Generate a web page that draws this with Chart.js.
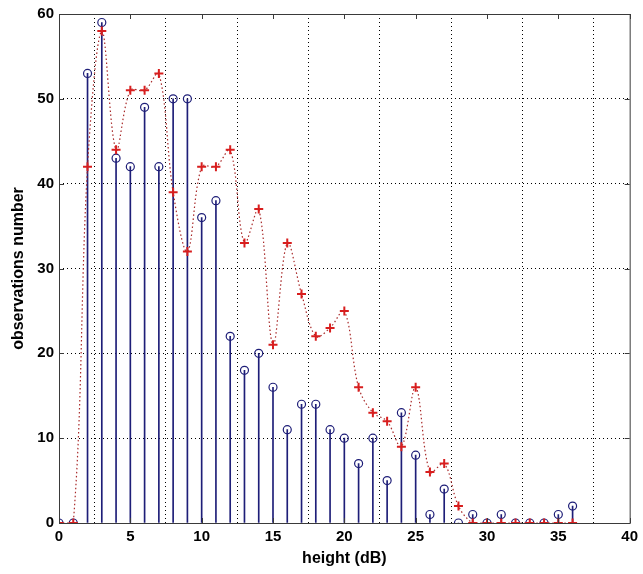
<!DOCTYPE html>
<html lang="en">
    <head>
        <meta charset="UTF-8">
        <title>Observations vs height</title>
        <script src="https://cdn.jsdelivr.net/npm/chart.js"></script>
        <style>
            html, body { margin: 0; padding: 0; background: #fff; }
            #wrap { width: 643px; height: 574px; }
        </style>
    </head>
    <body>
        <div id="wrap"><canvas id="heights"></canvas></div>
    </body>
    <script>
        // height bins (dB)
        const heights = [0, 1, 2, 3, 4, 5, 6, 7, 8, 9, 10, 11, 12, 13, 14, 15, 16, 17, 18,
            19, 20, 21, 22, 23, 24, 25, 26, 27, 28, 29, 30, 31, 32, 33, 34, 35, 36];
        // measured counts (stems)
        const observed = [0, 0, 53, 59, 43, 42, 49, 42, 50, 50, 36, 38, 22, 18, 20, 16, 11, 14, 14,
            11, 10, 7, 10, 5, 13, 8, 1, 4, 0, 1, 0, 1, 0, 0, 0, 1, 2];
        // model counts (red crosses)
        const model = [0, 0, 42, 58, 44, 51, 51, 53, 39, 32, 42, 42, 44, 33, 37, 21, 33, 27, 22,
            23, 25, 16, 13, 12, 9, 16, 6, 7, 2, 0, 0, 0, 0, 0, 0, 0, 0];
        const xTicks = [0, 5, 10, 15, 20, 25, 30, 35, 40];
        const yTicks = [0, 10, 20, 30, 40, 50, 60];

        const pts = (vals) => heights.map((h, i) => ({x: h, y: vals[i]}));

        const stemColor = '#1e1e78';
        const axisFont = {family: 'Liberation Sans, Arial, sans-serif', size: 15, weight: 'bold'};
        const titleFont = {family: 'Liberation Sans, Arial, sans-serif', size: 16, weight: 'bold'};

        // box round the plot plus small inward tick marks on every side
        const frame = {
            id: 'frame',
            afterDraw(chart) {
                const {ctx, chartArea: a, scales} = chart;
                ctx.save();
                ctx.strokeStyle = '#3a3a3a';
                ctx.lineWidth = 1;
                ctx.strokeRect(a.left + 0.5, a.top + 0.5, a.right - a.left, a.bottom - a.top);
                ctx.beginPath();
                xTicks.forEach(v => {
                    const px = Math.round(scales.x.getPixelForValue(v)) + 0.5;
                    ctx.moveTo(px, a.bottom); ctx.lineTo(px, a.bottom - 5);
                    ctx.moveTo(px, a.top); ctx.lineTo(px, a.top + 5);
                });
                yTicks.forEach(v => {
                    const py = Math.round(scales.y.getPixelForValue(v)) + 0.5;
                    ctx.moveTo(a.left, py); ctx.lineTo(a.left + 5, py);
                    ctx.moveTo(a.right, py); ctx.lineTo(a.right - 5, py);
                });
                ctx.stroke();
                ctx.restore();
            }
        };

        new Chart(document.getElementById('heights'), {
            type: 'scatter',
            data: {
                datasets: [
                    {
                        type: 'line',
                        data: pts(model),
                        borderColor: '#a82828',
                        borderWidth: 1.2,
                        borderDash: [1.5, 2.5],
                        tension: 0.35,
                        pointStyle: 'cross',
                        pointRadius: 4.5,
                        pointBorderWidth: 2,
                        pointBorderColor: '#d81e1e',
                        fill: false
                    },
                    {
                        type: 'scatter',
                        data: pts(observed),
                        pointStyle: 'circle',
                        pointRadius: 4,
                        pointBorderWidth: 1.2,
                        pointBorderColor: stemColor,
                        pointBackgroundColor: 'rgba(0,0,0,0)'
                    },
                    {
                        type: 'bar',
                        data: pts(observed),
                        backgroundColor: stemColor,
                        barThickness: 1,
                        borderWidth: 0
                    }
                ]
            },
            options: {
                responsive: true,
                maintainAspectRatio: false,
                animation: false,
                layout: {padding: {left: 0, right: 8, top: 9, bottom: 0}},
                plugins: {legend: {display: false}, tooltip: {enabled: false}},
                scales: {
                    x: {
                        type: 'linear',
                        min: 0,
                        max: 40,
                        offset: false,
                        afterFit: (s) => { s.height = 51; },
                        afterBuildTicks: (s) => { s.ticks = xTicks.map(v => ({value: v})); },
                        ticks: {color: '#000', font: axisFont, padding: 5, maxRotation: 0},
                        grid: {color: '#000', lineWidth: 1, drawTicks: false},
                        border: {display: false, dash: [1, 3]},
                        title: {display: true, text: 'height (dB)', color: '#000', font: titleFont, padding: {top: 0, bottom: 6}}
                    },
                    y: {
                        min: 0,
                        max: 60,
                        afterFit: (s) => { s.width = 59; },
                        afterBuildTicks: (s) => { s.ticks = yTicks.map(v => ({value: v})); },
                        ticks: {color: '#000', font: axisFont, padding: 5},
                        grid: {color: '#000', lineWidth: 1, drawTicks: false},
                        border: {display: false, dash: [1, 3]},
                        title: {display: true, text: 'observations number', color: '#000', font: titleFont, padding: {top: 9, bottom: 0}}
                    }
                }
            },
            plugins: [frame]
        });
    </script>
</html>
